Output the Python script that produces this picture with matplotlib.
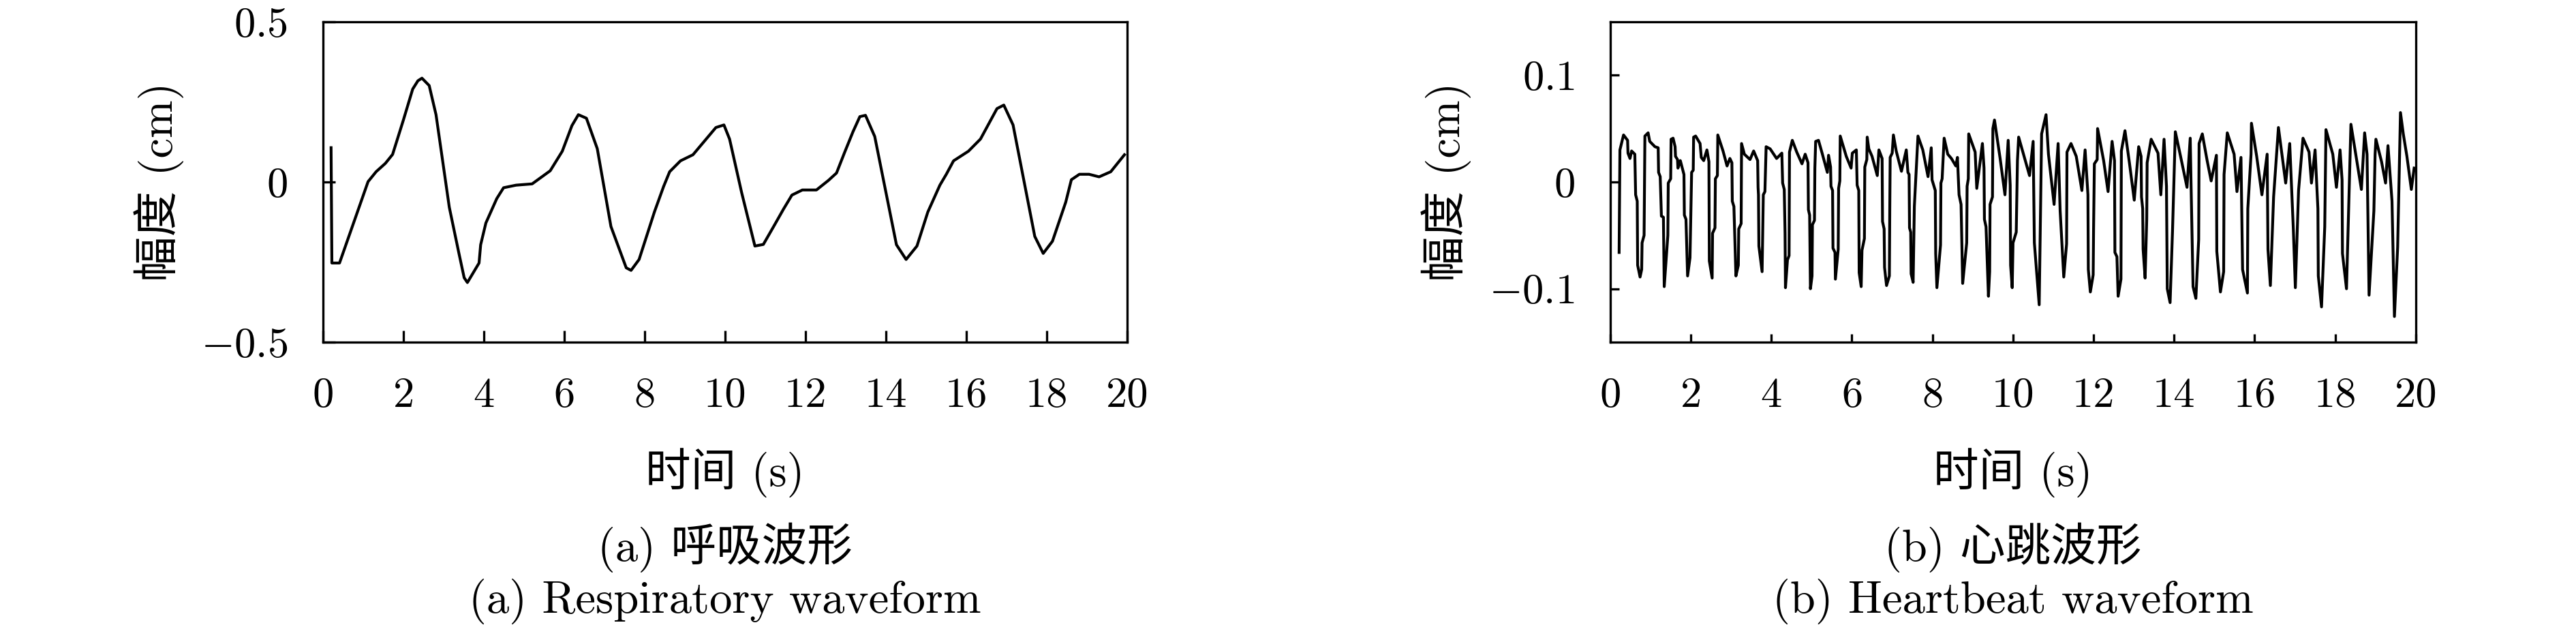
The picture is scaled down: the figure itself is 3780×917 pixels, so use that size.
import matplotlib

matplotlib.use("Agg")
import matplotlib.pyplot as plt

# ---- data ----
resp_t = [0.20, 0.22, 0.41, 1.12, 1.32, 1.55, 1.73, 2.00, 2.23, 2.36, 2.46, 2.64,
          2.81, 3.14, 3.38, 3.51, 3.59, 3.88, 3.92, 4.05, 4.32, 4.49, 4.80, 5.20,
          5.65, 5.95, 6.19, 6.35, 6.55, 6.82, 7.16, 7.54, 7.66, 7.86, 8.24, 8.47,
          8.62, 8.89, 9.20, 9.77, 9.97, 10.11, 10.41, 10.74, 10.95, 11.22, 11.45,
          11.66, 11.92, 12.27, 12.57, 12.77, 12.97, 13.18, 13.35, 13.49, 13.72,
          14.26, 14.50, 14.77, 15.04, 15.34, 15.50, 15.68, 16.05, 16.35, 16.76,
          16.93, 17.16, 17.70, 17.91, 18.14, 18.47, 18.61, 18.81, 19.05, 19.30,
          19.59, 19.93]
resp_v = [0.107, -0.253, -0.253, 0.001, 0.032, 0.058, 0.086, 0.194, 0.290, 0.316,
          0.324, 0.301, 0.210, -0.079, -0.223, -0.299, -0.314, -0.253, -0.196,
          -0.128, -0.052, -0.018, -0.010, -0.006, 0.035, 0.096, 0.176, 0.210,
          0.199, 0.104, -0.139, -0.268, -0.276, -0.242, -0.094, -0.014, 0.032,
          0.066, 0.085, 0.170, 0.178, 0.134, -0.033, -0.200, -0.195, -0.136,
          -0.085, -0.041, -0.025, -0.025, 0.005, 0.028, 0.092, 0.157, 0.204,
          0.208, 0.142, -0.196, -0.242, -0.200, -0.094, -0.010, 0.024, 0.066,
          0.096, 0.134, 0.229, 0.240, 0.178, -0.170, -0.223, -0.185, -0.063,
          0.007, 0.024, 0.024, 0.016, 0.032, 0.085]

heart_t = [0.22, 0.24, 0.33, 0.43, 0.44, 0.49, 0.53, 0.61, 0.63, 0.67, 0.68, 0.74,
           0.78, 0.79, 0.84, 0.85, 0.86, 0.94, 0.98, 1.11, 1.19, 1.20, 1.24, 1.27,
           1.32, 1.34, 1.43, 1.44, 1.50, 1.51, 1.56, 1.61, 1.62, 1.67, 1.68, 1.74,
           1.83, 1.84, 1.88, 1.92, 1.98, 2.02, 2.06, 2.07, 2.12, 2.23, 2.26, 2.32,
           2.40, 2.45, 2.46, 2.53, 2.54, 2.60, 2.61, 2.66, 2.67, 2.80, 2.90, 2.97,
           3.02, 3.03, 3.07, 3.12, 3.18, 3.19, 3.25, 3.26, 3.33, 3.47, 3.56, 3.66,
           3.67, 3.68, 3.69, 3.77, 3.80, 3.84, 3.87, 3.97, 4.13, 4.26, 4.28, 4.32,
           4.34, 4.35, 4.40, 4.44, 4.45, 4.52, 4.63, 4.76, 4.84, 4.91, 4.92, 4.95,
           4.97, 5.01, 5.02, 5.07, 5.08, 5.10, 5.17, 5.26, 5.39, 5.42, 5.47, 5.48,
           5.52, 5.53, 5.58, 5.59, 5.66, 5.67, 5.70, 5.71, 5.86, 5.98, 6.01, 6.11,
           6.13, 6.17, 6.18, 6.23, 6.25, 6.31, 6.32, 6.37, 6.38, 6.42, 6.50, 6.63,
           6.67, 6.75, 6.76, 6.80, 6.81, 6.86, 6.93, 6.94, 6.95, 7.00, 7.03, 7.10,
           7.23, 7.35, 7.39, 7.42, 7.43, 7.46, 7.47, 7.52, 7.55, 7.64, 7.76, 7.89,
           7.97, 7.99, 8.07, 8.08, 8.11, 8.20, 8.21, 8.24, 8.29, 8.38, 8.47, 8.58,
           8.62, 8.66, 8.71, 8.75, 8.85, 8.86, 8.89, 8.90, 9.06, 9.10, 9.24, 9.28,
           9.29, 9.33, 9.39, 9.42, 9.43, 9.49, 9.50, 9.54, 9.68, 9.80, 9.88, 9.93,
           9.94, 9.98, 10.00, 10.08, 10.11, 10.14, 10.41, 10.50, 10.53, 10.65,
           10.71, 10.82, 10.88, 11.02, 11.12, 11.17, 11.26, 11.33, 11.34, 11.44,
           11.57, 11.71, 11.79, 11.86, 11.87, 11.92, 11.99, 12.00, 12.02, 12.09,
           12.10, 12.25, 12.36, 12.46, 12.52, 12.53, 12.58, 12.61, 12.68, 12.69,
           12.78, 12.89, 13.01, 13.12, 13.18, 13.19, 13.22, 13.23, 13.28, 13.32,
           13.33, 13.43, 13.60, 13.67, 13.75, 13.81, 13.83, 13.90, 13.96, 14.03,
           14.16, 14.32, 14.40, 14.42, 14.47, 14.54, 14.61, 14.62, 14.70, 14.82,
           14.92, 15.05, 15.06, 15.15, 15.23, 15.24, 15.32, 15.49, 15.56, 15.66,
           15.70, 15.82, 15.83, 15.91, 15.92, 16.05, 16.18, 16.31, 16.33, 16.39,
           16.47, 16.59, 16.77, 16.87, 16.96, 17.01, 17.09, 17.20, 17.35, 17.41,
           17.50, 17.57, 17.58, 17.66, 17.74, 17.77, 17.94, 18.03, 18.12, 18.17,
           18.18, 18.28, 18.39, 18.65, 18.73, 18.79, 18.84, 18.96, 18.99, 19.01,
           19.15, 19.25, 19.31, 19.41, 19.47, 19.55, 19.62, 19.69, 19.78, 19.89,
           19.96]
heart_v = [-0.066, 0.030, 0.044, 0.039, 0.027, 0.022, 0.029, 0.026, -0.012, -0.018,
           -0.078, -0.089, -0.082, -0.057, -0.050, -0.001, 0.043, 0.046, 0.038,
           0.033, 0.032, 0.009, 0.005, -0.032, -0.033, -0.098, -0.050, -0.001,
           0.003, 0.040, 0.041, 0.033, 0.024, 0.021, 0.013, 0.020, 0.007, -0.031,
           -0.035, -0.088, -0.071, 0.009, 0.011, 0.042, 0.043, 0.036, 0.023, 0.020,
           0.030, 0.019, -0.074, -0.090, -0.048, -0.043, 0.003, 0.006, 0.044,
           0.029, 0.015, 0.022, 0.018, -0.018, -0.023, -0.088, -0.078, -0.044,
           -0.039, 0.036, 0.026, 0.021, 0.029, 0.020, -0.005, -0.012, -0.060,
           -0.084, -0.012, -0.009, 0.033, 0.031, 0.022, 0.027, -0.001, -0.007,
           -0.048, -0.099, -0.073, -0.069, 0.028, 0.039, 0.028, 0.017, 0.026,
           0.018, -0.026, -0.031, -0.100, -0.088, -0.040, -0.036, 0.013, 0.038,
           0.039, 0.027, 0.009, 0.025, 0.014, -0.004, -0.008, -0.062, -0.066,
           -0.091, -0.063, -0.006, 0.001, 0.043, 0.024, 0.013, 0.027, 0.030,
           -0.003, -0.008, -0.085, -0.098, -0.064, -0.053, 0.014, 0.021, 0.042,
           0.031, 0.024, 0.006, 0.030, 0.022, -0.037, -0.044, -0.080, -0.097,
           -0.088, -0.026, 0.023, 0.027, 0.044, 0.029, 0.010, 0.030, 0.009, 0.007,
           -0.043, -0.047, -0.086, -0.094, -0.023, 0.043, 0.030, 0.005, 0.032,
           0.002, -0.008, -0.067, -0.099, -0.059, -0.001, 0.003, 0.041, 0.026,
           0.022, 0.015, 0.023, -0.012, -0.021, -0.095, -0.057, -0.004, 0.003,
           0.045, 0.028, -0.006, 0.036, 0.013, -0.035, -0.042, -0.107, -0.084,
           -0.021, -0.014, 0.050, 0.058, 0.022, -0.012, 0.039, -0.003, -0.078,
           -0.099, -0.057, -0.047, 0.020, 0.042, 0.006, 0.038, -0.057, -0.115,
           0.045, 0.063, 0.026, -0.021, 0.036, -0.027, -0.089, -0.058, 0.028,
           0.036, 0.024, -0.008, 0.030, -0.012, -0.082, -0.103, -0.087, -0.045,
           0.017, 0.021, 0.050, 0.020, -0.009, 0.038, 0.020, -0.066, -0.070,
           -0.107, -0.091, 0.029, 0.048, 0.018, -0.017, 0.033, 0.024, -0.014,
           -0.025, -0.063, -0.090, -0.035, 0.018, 0.040, 0.027, -0.012, 0.040,
           -0.004, -0.100, -0.113, -0.046, 0.047, 0.024, -0.005, 0.041, -0.001,
           -0.098, -0.109, -0.054, 0.036, 0.045, 0.020, 0.001, 0.025, -0.065,
           -0.103, -0.084, 0.007, 0.046, 0.026, -0.009, 0.023, -0.082, -0.104,
           -0.025, 0.026, 0.055, 0.024, -0.012, 0.026, -0.063, -0.097, -0.014,
           0.051, -0.001, 0.036, -0.044, -0.099, -0.008, 0.041, 0.028, -0.001,
           0.030, -0.025, -0.088, -0.117, -0.042, 0.049, 0.026, -0.005, 0.030,
           0.002, -0.067, -0.100, 0.054, -0.007, 0.046, 0.026, -0.106, -0.027,
           0.026, 0.040, 0.019, -0.001, 0.034, -0.018, -0.126, -0.061, 0.065,
           0.045, 0.024, -0.007, 0.013]

x_ticks = [0, 2, 4, 6, 8, 10, 12, 14, 16, 18, 20]
x_ticklabels = [str(v) for v in x_ticks]
resp_yticks = [-0.5, 0, 0.5]
resp_yticklabels = ["$-0.5$", "$0$", "$0.5$"]
heart_yticks = [-0.1, 0, 0.1]
heart_yticklabels = ["$-0.1$", "$0$", "$0.1$"]

plt.rcParams["mathtext.fontset"] = "cm"
plt.rcParams["font.family"] = ["cmr10", "Noto Sans CJK SC"]
plt.rcParams["axes.unicode_minus"] = False

FS_TICK = 15
FS_TEXT = 16
fig = plt.figure(figsize=(12.6, 3.0567), dpi=300)

panels = [
    dict(rect=[0.1254, 0.4526, 0.3122, 0.5125], t=resp_t, v=resp_v, ylim=(-0.5, 0.5),
         yticks=resp_yticks, ylabels=resp_yticklabels, ticklen=4.2,
         cap_cn="(a) 呼吸波形", cap_en="(a) Respiratory waveform"),
    dict(rect=[0.6251, 0.4526, 0.3127, 0.5125], t=heart_t, v=heart_v, ylim=(-0.15, 0.15),
         yticks=heart_yticks, ylabels=heart_yticklabels, ticklen=3.0,
         cap_cn="(b) 心跳波形", cap_en="(b) Heartbeat waveform"),
]

for p in panels:
    ax = fig.add_axes(p["rect"])
    ax.plot(p["t"], p["v"], color="black", lw=1.0)
    ax.set_xlim(0, 20)
    ax.set_ylim(*p["ylim"])
    ax.set_xticks(x_ticks)
    ax.set_xticklabels(x_ticklabels, fontsize=FS_TICK)
    ax.set_yticks(p["yticks"])
    ax.set_yticklabels(p["ylabels"], fontsize=FS_TICK)
    ax.tick_params(direction="in", length=p["ticklen"], width=0.8, pad=12.5,
                   top=False, right=False)
    for s in ax.spines.values():
        s.set_linewidth(0.8)
    ax.set_xlabel("时间 (s)", fontsize=FS_TEXT, va="top")
    ax.xaxis.set_label_coords(0.5, -0.33)
    ax.set_ylabel("幅度 (cm)", fontsize=FS_TEXT, va="center")
    ax.yaxis.set_label_coords(-0.204, 0.5)
    cx = p["rect"][0] + p["rect"][2] / 2
    fig.text(cx, 0.1243, p["cap_cn"], ha="center", va="center", fontsize=FS_TEXT)
    fig.text(cx, 0.0371, p["cap_en"], ha="center", va="center", fontsize=FS_TEXT)

fig.savefig("out.png", dpi=300)
